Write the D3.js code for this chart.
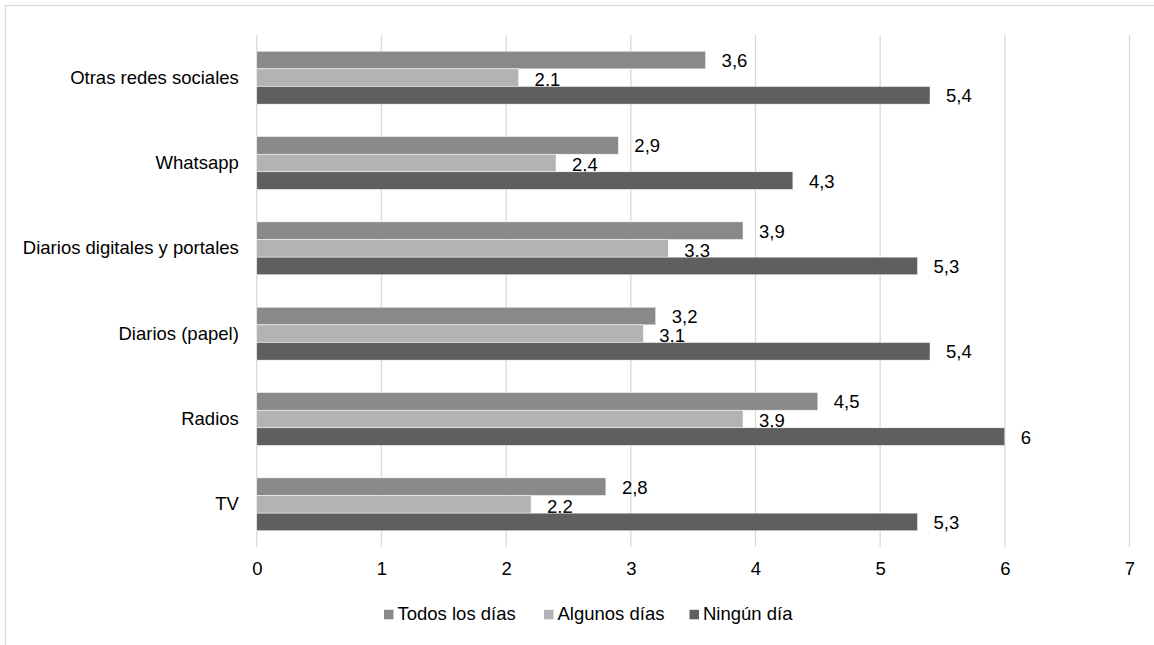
<!DOCTYPE html>
<html><head><meta charset="utf-8">
<script src="https://cdn.jsdelivr.net/npm/d3@7"></script>
<style>body{margin:0;background:#fff;}svg{display:block;font-family:"Liberation Sans",Arial,sans-serif;}</style>
</head><body><svg id="c" width="1154" height="645"></svg>
<script>
const categories = ["Otras redes sociales","Whatsapp","Diarios digitales y portales","Diarios (papel)","Radios","TV"];
const seriesNames = ["Todos los días","Algunos días","Ningún día"];
const todos   = [3.6, 2.9, 3.9, 3.2, 4.5, 2.8];
const algunos = [2.1, 2.4, 3.3, 3.1, 3.9, 2.2];
const ningun  = [5.4, 4.3, 5.3, 5.4, 6.0, 5.3];
const tickValues = [0,1,2,3,4,5,6,7];
const colors = ["#898989","#b3b3b3","#5f5f5f"];
const seriesValues = [todos, algunos, ningun];
const FS = 18.5;

const svg = d3.select("#c");
svg.append("rect").attr("x",5.5).attr("y",5.5).attr("width",1200).attr("height",700)
  .attr("fill","none").attr("stroke","#d9d9d9").attr("stroke-width",1.3);

const x = d3.scaleLinear().domain([0,7]).range([256.8,1129.5]);
const y = d3.scaleBand().domain(categories).range([35,547]).paddingInner(0.38).paddingOuter(0.19);
const y1 = d3.scaleBand().domain(seriesNames).range([0,y.bandwidth()]);

// gridlines
svg.append("g").selectAll("line").data(tickValues).join("line")
  .attr("x1",d=>x(d)).attr("x2",d=>x(d)).attr("y1",35).attr("y2",547)
  .attr("stroke","#d9d9d9").attr("stroke-width",1.3);

// x axis labels
const xa = svg.append("g").attr("transform","translate(0,547)")
  .call(d3.axisBottom(x).tickValues(tickValues).tickSize(0).tickPadding(14.5).tickFormat(d=>d));
xa.select(".domain").remove();
xa.selectAll("text").attr("font-size",FS).attr("fill","#000").attr("font-family","Liberation Sans, Arial, sans-serif");

// y axis labels
const ya = svg.append("g").attr("transform","translate(256.8,0)")
  .call(d3.axisLeft(y).tickSize(0).tickPadding(18));
ya.select(".domain").remove();
ya.selectAll("text").attr("font-size",FS).attr("fill","#000").attr("font-family","Liberation Sans, Arial, sans-serif");

const fmt = v => String(v).replace(".",",");
const groups = svg.append("g").selectAll("g").data(categories).join("g")
  .attr("transform",d=>`translate(0,${y(d)})`);
seriesNames.forEach((s,si)=>{
  groups.append("rect")
    .attr("x",x(0)).attr("y",y1(s))
    .attr("width",(d,i)=>x(seriesValues[si][i])-x(0))
    .attr("height",y1.bandwidth())
    .attr("fill",colors[si]).attr("stroke","#fff").attr("stroke-width",0.5);
  groups.append("text")
    .attr("x",(d,i)=>x(seriesValues[si][i])+16)
    .attr("y",y1(s)+y1.bandwidth()/2 + (si===1?2:0.5))
    .attr("dy","0.35em")
    .attr("font-size",FS).attr("fill","#000")
    .text((d,i)=>fmt(seriesValues[si][i]));
});

// legend
const legendX = [384, 544, 689.5];
const lg = svg.append("g").selectAll("g").data(seriesNames).join("g")
  .attr("transform",(d,i)=>`translate(${legendX[i]},614.5)`);
lg.append("rect").attr("x",0).attr("y",-4.7).attr("width",9.5).attr("height",9.5).attr("fill",(d,i)=>colors[i]);
lg.append("text").attr("x",13.5).attr("y",5.5).attr("font-size",FS).attr("fill","#000").text(d=>d);
</script></body></html>
